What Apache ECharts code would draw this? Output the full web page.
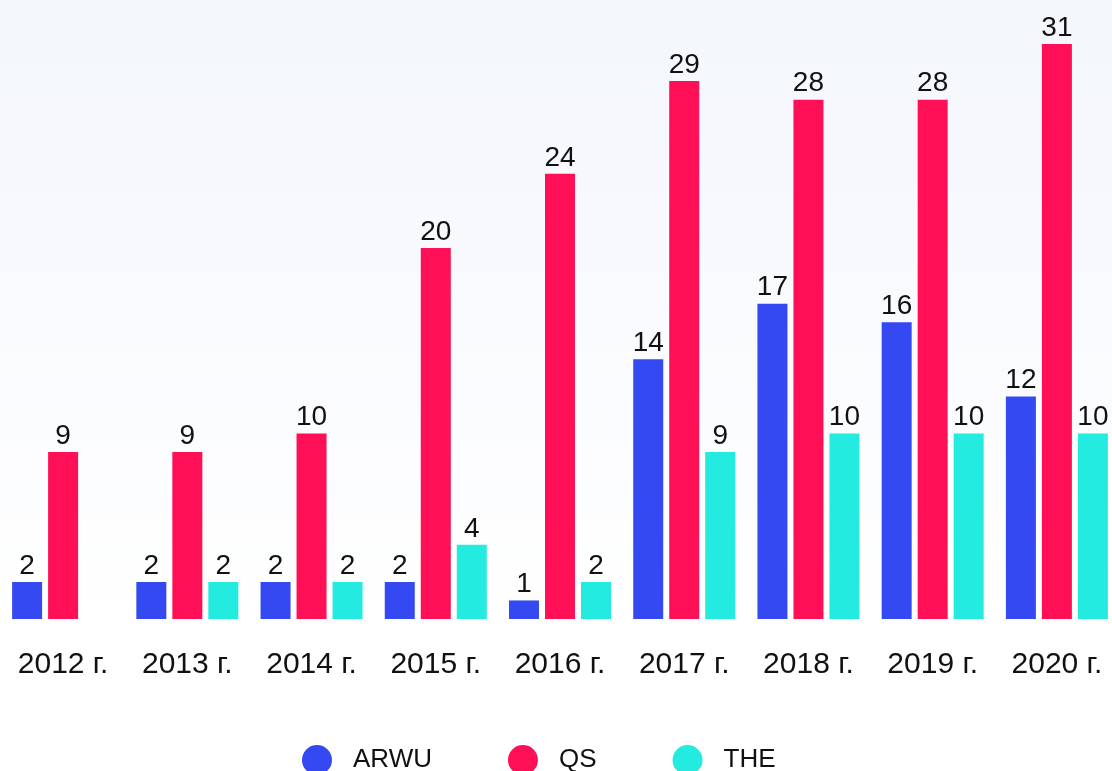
<!DOCTYPE html>
<html>
<head>
<meta charset="utf-8">
<script src="https://cdn.jsdelivr.net/npm/echarts@6/dist/echarts.min.js"></script>
<style>
  html, body { margin: 0; padding: 0; }
  #chart { width: 1112px; height: 771px; }
</style>
</head>
<body>
<div id="chart"></div>
<script>
// years and ranking counts
var years = ['2012 г.', '2013 г.', '2014 г.', '2015 г.', '2016 г.', '2017 г.', '2018 г.', '2019 г.', '2020 г.'];
var arwu = [2, 2, 2, 2, 1, 14, 17, 16, 12];
var qs = [9, 9, 10, 20, 24, 29, 28, 28, 31];
var the = [null, 2, 2, 4, 2, 9, 10, 10, 10];

var font = '"Liberation Sans", Arial, sans-serif';

function barSeries(name, data, color) {
  return {
    name: name,
    type: 'bar',
    data: data,
    barWidth: 30,
    barGap: '20%',
    itemStyle: { color: color },
    label: {
      show: true,
      position: 'top',
      distance: 2,
      color: '#111',
      fontSize: 28,
      fontFamily: font
    }
  };
}

var chart = echarts.init(document.getElementById('chart'));
chart.setOption({
  animation: false,
  backgroundColor: {
    type: 'linear', x: 0, y: 0, x2: 0, y2: 1,
    colorStops: [
      { offset: 0, color: '#f3f7fb' },
      { offset: 0.2, color: '#f6f8fd' },
      { offset: 0.8, color: '#ffffff' },
      { offset: 1, color: '#ffffff' }
    ]
  },
  grid: { left: 1, width: 1118, top: 44, bottom: 152, outerBoundsMode: 'none', containLabel: false },
  legend: {
    left: 302,
    top: 745,
    padding: 0,
    icon: 'circle',
    itemWidth: 30,
    itemHeight: 30,
    itemGap: 76,
    textStyle: { color: '#111', fontSize: 26, fontFamily: font, padding: [0, 0, 0, 16] }
  },
  xAxis: {
    type: 'category',
    data: years,
    axisLine: { show: false },
    axisTick: { show: false },
    axisLabel: { color: '#111', fontSize: 30, fontFamily: font, margin: 31 }
  },
  yAxis: {
    type: 'value',
    min: 0,
    max: 31,
    show: false,
    splitLine: { show: false }
  },
  series: [
    barSeries('ARWU', arwu, '#3549f2'),
    barSeries('QS', qs, '#ff0f55'),
    barSeries('THE', the, '#23ebdf')
  ]
});
</script>
</body>
</html>
